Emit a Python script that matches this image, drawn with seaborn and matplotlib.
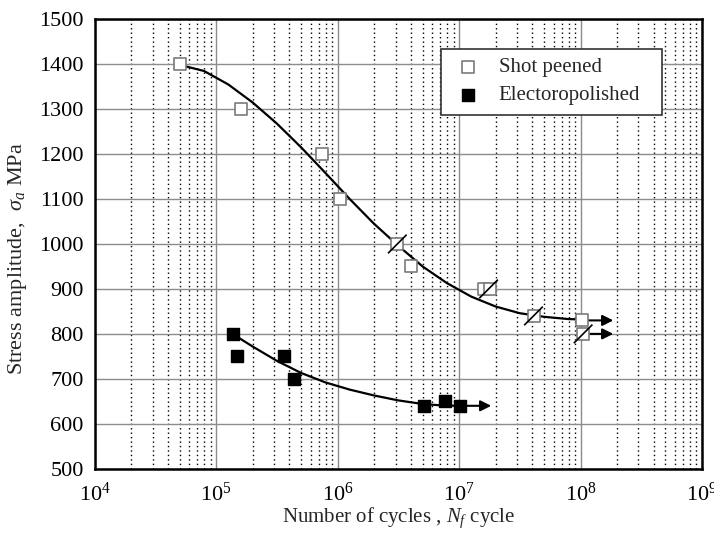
import numpy as np
import pandas as pd
import matplotlib
matplotlib.use("Agg")
import matplotlib.pyplot as plt
from matplotlib.ticker import LogLocator, NullFormatter, MultipleLocator
import seaborn as sns

sp_cycles = [5e4, 1.6e5, 7.5e5, 1.05e6, 3.1e6, 4.0e6, 1.6e7, 1.8e7, 4.1e7, 1.03e8, 1.05e8]
sp_stress = [1400, 1300, 1200, 1100, 1000, 950, 900, 900, 840, 830, 800]

ep_cycles = [1.37e5, 1.48e5, 3.6e5, 4.4e5, 5.1e6, 7.7e6, 1.02e7]
ep_stress = [800, 750, 750, 700, 640, 650, 640]

# fitted S-N curves
sp_curve_logN = [4.68, 4.9, 5.1, 5.3, 5.5, 5.7, 5.9, 6.1, 6.3, 6.5, 6.7, 6.9, 7.1, 7.3, 7.5, 7.7, 7.9, 8.02]
sp_curve_S = [1400, 1385, 1355, 1315, 1268, 1215, 1158, 1100, 1045, 996, 950, 913, 883, 861, 846, 838, 833, 832]

ep_curve_logN = [5.135, 5.3, 5.5, 5.7, 5.9, 6.1, 6.3, 6.5, 6.7, 6.85, 7.0]
ep_curve_S = [800, 772, 740, 713, 692, 676, 663, 652, 644, 641, 640]

# runout marks (slash) and arrows
runout_cycles = [3.1e6, 1.75e7, 4.1e7, 1.05e8]
runout_stress = [1000, 900, 840, 800]
arrow_start = [(1.03e8, 830), (1.05e8, 800), (1.02e7, 640)]
arrow_end_cycles = [1.86e8, 1.86e8, 1.84e7]

sns.set_style("white")
plt.rcParams["font.family"] = ["Liberation Serif", "DejaVu Serif"]
plt.rcParams["mathtext.fontset"] = "custom"
plt.rcParams["mathtext.rm"] = "Liberation Serif"
plt.rcParams["mathtext.it"] = "Liberation Serif:italic"

fig, ax = plt.subplots(figsize=(7.14, 5.42), dpi=100)
fig.subplots_adjust(left=0.1326, right=0.9832, top=0.9644, bottom=0.1352)

ax.set_xscale("log")
ax.set_xlim(1e4, 1e9)
ax.set_ylim(500, 1500)

# grid
ax.xaxis.set_major_locator(LogLocator(base=10, numticks=10))
ax.xaxis.set_minor_locator(LogLocator(base=10, subs=np.arange(2, 10), numticks=100))
ax.xaxis.set_minor_formatter(NullFormatter())
ax.yaxis.set_major_locator(MultipleLocator(100))
ax.grid(which="major", axis="both", color="#8c8c8c", lw=1.0, ls="-")
ax.grid(which="minor", axis="x", color="black", lw=1.0, ls=(0, (1, 2.2)))
ax.set_axisbelow(True)

# curves
sp_curve = pd.DataFrame({"N": 10 ** np.array(sp_curve_logN), "S": sp_curve_S})
ep_curve = pd.DataFrame({"N": 10 ** np.array(ep_curve_logN), "S": ep_curve_S})
sns.lineplot(data=sp_curve, x="N", y="S", color="black", lw=1.6, ax=ax, sort=False)
sns.lineplot(data=ep_curve, x="N", y="S", color="black", lw=1.6, ax=ax, sort=False)

# arrows
for (x0, y0), x1 in zip(arrow_start, arrow_end_cycles):
    ax.annotate("", xy=(x1, y0), xytext=(x0, y0),
                arrowprops=dict(arrowstyle="-|>", color="black", lw=1.5,
                                mutation_scale=16, shrinkA=0, shrinkB=0))

# points
sp = pd.DataFrame({"N": sp_cycles, "S": sp_stress})
ep = pd.DataFrame({"N": ep_cycles, "S": ep_stress})
sns.scatterplot(data=sp, x="N", y="S", marker="s", s=75, facecolor="white",
                edgecolor="#7a7a7a", linewidth=1.2, ax=ax, label="Shot peened", zorder=4)
sns.scatterplot(data=ep, x="N", y="S", marker="s", s=75, color="black",
                edgecolor="black", linewidth=1.0, ax=ax, label="Electoropolished", zorder=4)

# runout slashes
ax.scatter(runout_cycles, runout_stress, marker=[(-1, -1), (1, 1)], s=180,
           facecolor="none", edgecolor="black", linewidth=1.2, zorder=5)

for s in ax.spines.values():
    s.set_color("black")
    s.set_linewidth(1.8)

ax.tick_params(axis="both", which="both", length=0, labelsize=16, colors="black")
ax.tick_params(axis="x", pad=10)
ax.tick_params(axis="y", pad=8)

ax.set_xlabel("Number of cycles , $N_f$ cycle", fontsize=15, labelpad=0)
ax.set_ylabel("Stress amplitude,  $\\sigma_a$ MPa", fontsize=16)
ax.yaxis.set_label_coords(-0.108, 0.467)

leg = ax.legend(loc="upper left", bbox_to_anchor=(0.571, 0.835, 0.363, 0.1),
                mode="expand", fontsize=15,
                frameon=True, fancybox=False, edgecolor="#333333", framealpha=1,
                borderpad=0.45, handlelength=1.6, handletextpad=0.7,
                labelspacing=0.4, borderaxespad=0)
leg.get_frame().set_linewidth(1.2)

fig.savefig("out.png", dpi=100)
